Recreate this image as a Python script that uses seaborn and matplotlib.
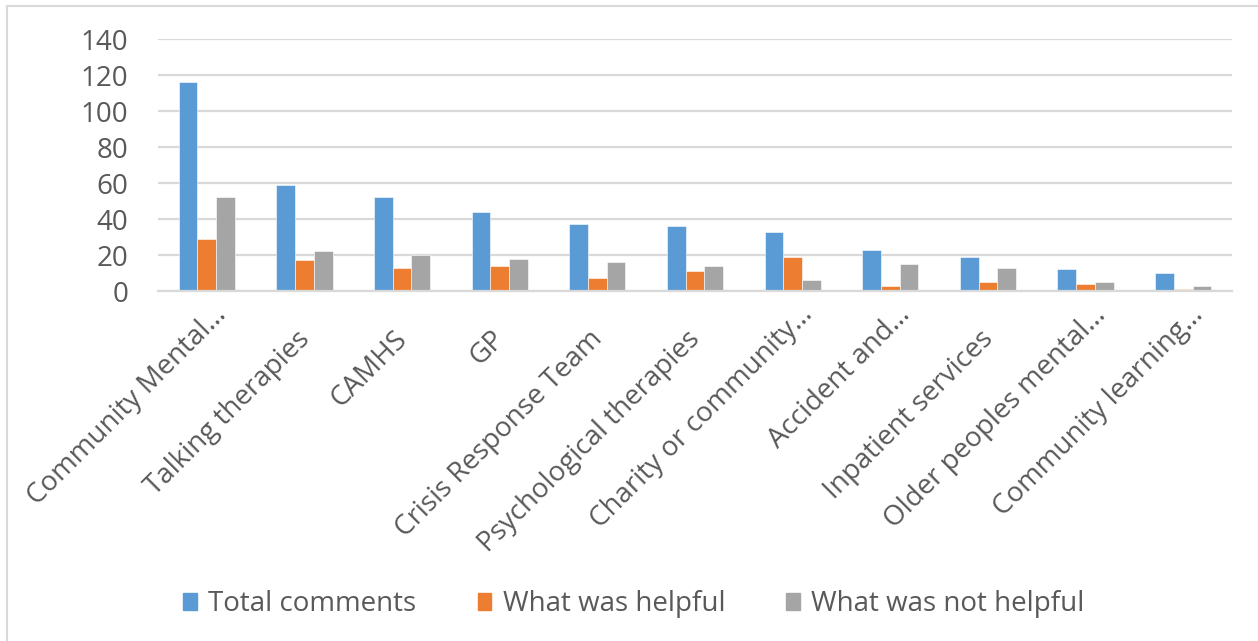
import matplotlib
matplotlib.use("Agg")
import matplotlib.pyplot as plt
import matplotlib.patches as mpatches
import matplotlib.transforms as mtransforms
import seaborn as sns
import pandas as pd

categories = [
    "Community Mental…", "Talking therapies", "CAMHS", "GP",
    "Crisis Response Team", "Psychological therapies",
    "Charity or community…", "Accident and…", "Inpatient services",
    "Older peoples mental…", "Community learning…",
]
total_comments = [116, 59, 52, 44, 37, 36, 33, 23, 19, 12, 10]
what_was_helpful = [29, 17, 13, 14, 7, 11, 19, 3, 5, 4, 1]
what_was_not_helpful = [52, 22, 20, 18, 16, 14, 6, 15, 13, 5, 3]
series_names = ["Total comments", "What was helpful", "What was not helpful"]
y_ticks = [0, 20, 40, 60, 80, 100, 120, 140]

colors = ["#5B9BD5", "#ED7D31", "#A5A5A5"]
text_color = "#595959"
grid_color = "#D9D9D9"

rows = []
for name, vals in zip(series_names,
                      [total_comments, what_was_helpful, what_was_not_helpful]):
    for cat, v in zip(categories, vals):
        rows.append({"Service": cat, "Series": name, "Count": v})
df = pd.DataFrame(rows)

sns.set_theme(style="white")
plt.rcParams["font.family"] = ["Open Sans", "DejaVu Sans"]

W, H = 1258, 641
fig = plt.figure(figsize=(W / 100, H / 100), dpi=100)
ax = fig.add_axes([158 / W, 1 - 291 / H, (1232 - 158) / W, (291 - 39) / H])

sns.barplot(
    data=df, x="Service", y="Count", hue="Series",
    order=categories, hue_order=series_names, palette=colors,
    width=0.575, gap=0, saturation=1, ax=ax, legend=True,
    edgecolor="white", linewidth=0.4,
)

ax.set_ylim(0, 140)
ax.set_xlim(-0.5, len(categories) - 0.5)
ax.set_yticks(y_ticks)
ax.yaxis.grid(True, color=grid_color, linewidth=1.6)
ax.set_axisbelow(True)
for side in ["top", "right", "left"]:
    ax.spines[side].set_visible(False)
ax.spines["bottom"].set_color(grid_color)
ax.spines["bottom"].set_linewidth(1.6)
ax.set_xlabel("")
ax.set_ylabel("")

ax.tick_params(axis="y", length=0, pad=21.5, labelsize=20, labelcolor=text_color)
ax.set_xticks(range(len(categories)))
ax.set_xticklabels([])
ax.tick_params(axis="x", length=0)

# Rotated category labels; truncated names sit a little higher along the slant
base = mtransforms.blended_transform_factory(ax.transData, ax.transAxes)
for i, label in enumerate(categories):
    if label.endswith("…"):
        dx, dy = 6, 10
    else:
        dx, dy = -9, 34
    off = mtransforms.ScaledTranslation(dx / 100, -dy / 100, fig.dpi_scale_trans)
    ax.text(i, 0, label, transform=base + off, rotation=45,
            rotation_mode="anchor", ha="right", va="top",
            fontsize=20, color=text_color)

handles = [mpatches.Patch(color=c) for c in colors]
ax.legend(
    handles, series_names, loc="center",
    bbox_to_anchor=(0.5 + 5 / W, 1 - 604 / H),
    bbox_transform=fig.transFigure, ncol=3, frameon=False,
    fontsize=20, labelcolor=text_color, handlelength=0.5, handleheight=0.55,
    handletextpad=0.4, columnspacing=2.2,
)

# chart frame
fig.patches.append(mpatches.Rectangle(
    (7 / W, -0.1), 1.2, 1 - 6 / H + 0.1, transform=fig.transFigure,
    fill=False, edgecolor=grid_color, linewidth=1.5))

fig.savefig("out.png", dpi=100, facecolor="white")
